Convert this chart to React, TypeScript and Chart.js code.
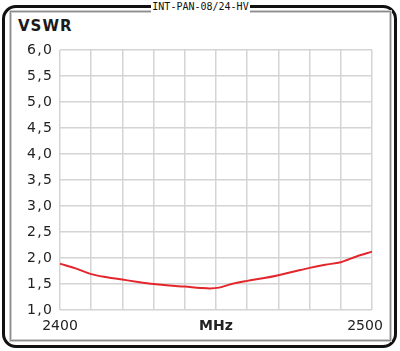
import React, { useEffect, useRef } from "react";
import { Chart, registerables } from "chart.js";

Chart.register(...registerables);

const frequencies = [2400, 2405, 2410, 2415, 2420, 2425, 2430, 2435, 2440, 2445, 2448, 2451, 2455, 2460, 2465, 2470, 2475, 2480, 2485, 2490, 2495, 2500];
const vswr = [1.89, 1.80, 1.69, 1.63, 1.585, 1.54, 1.50, 1.47, 1.45, 1.425, 1.415, 1.43, 1.50, 1.56, 1.61, 1.67, 1.74, 1.81, 1.87, 1.92, 2.03, 2.12];
const xTickLabels: Record<number, string> = { 2400: "2400", 2450: "MHz", 2500: "2500\u2003" };
const yTickValues = [1.0, 1.5, 2.0, 2.5, 3.0, 3.5, 4.0, 4.5, 5.0, 5.5, 6.0];

export default function App() {
  const canvasRef = useRef<HTMLCanvasElement | null>(null);

  useEffect(() => {
    document.body.style.margin = "0";
    const canvas = canvasRef.current;
    if (!canvas) return;
    const chart = new Chart(canvas, {
      type: "line",
      data: {
        datasets: [
          {
            data: frequencies.map((f, i) => ({ x: f, y: vswr[i] })),
            borderColor: "#e3262b",
            borderWidth: 2,
            pointRadius: 0,
            cubicInterpolationMode: "monotone",
            fill: false,
          },
        ],
      },
      options: {
        animation: false,
        responsive: false,
        maintainAspectRatio: false,
        layout: { padding: { left: 0, top: 50, right: 28, bottom: 0 } },
        plugins: { legend: { display: false }, tooltip: { enabled: false } },
        scales: {
          x: {
            type: "linear",
            min: 2400,
            max: 2500,
            afterFit: (s: any) => {
              s.height = 41;
              s.paddingLeft = 0;
              s.paddingRight = 0;
            },
            afterBuildTicks: (s: any) => {
              const t = [];
              for (let v = 2400; v <= 2500; v += 10) t.push({ value: v });
              s.ticks = t;
            },
            grid: { color: "#d4d4d4", lineWidth: 1.5, drawTicks: false },
            border: { display: false },
            ticks: {
              autoSkip: false,
              maxRotation: 0,
              padding: 8,
              color: "#222",
              font: (ctx: any) =>
                ctx.tick && ctx.tick.value === 2450
                  ? { family: "'DejaVu Sans'", size: 14, weight: "bold" }
                  : { family: "'DejaVu Sans'", size: 14 },
              callback: (v: any) => xTickLabels[v as number] ?? "",
            },
          },
          y: {
            min: 1,
            max: 6,
            afterFit: (s: any) => {
              s.width = 60;
              s.paddingTop = 0;
              s.paddingBottom = 0;
            },
            afterBuildTicks: (s: any) => {
              s.ticks = yTickValues.map((v) => ({ value: v }));
            },
            grid: { color: "#d4d4d4", lineWidth: 1.5, drawTicks: false },
            border: { display: false },
            ticks: {
              padding: 8,
              color: "#222",
              font: { family: "'DejaVu Sans'", size: 14 },
              callback: (v: any) => Number(v).toFixed(1).replace(".", "\u200A,\u200A"),
            },
          },
        },
      },
    });
    return () => chart.destroy();
  }, []);

  return (
    <div style={{ position: "relative", width: 400, height: 351, background: "#fff", overflow: "hidden" }}>
      <div
        style={{
          position: "absolute",
          left: 2,
          top: 5,
          width: 389,
          height: 337,
          border: "3px solid #111",
          borderRadius: 14,
        }}
      />
      <div
        style={{
          position: "absolute",
          left: 10,
          top: 11,
          width: 379,
          height: 328,
          border: "1px solid #8a8a8a",
          boxShadow: "inset 0 0 0 1px #cfcfcf, 0 0 0 1px #cfcfcf",
        }}
      />
      <div
        style={{
          position: "absolute",
          left: 151,
          top: 1,
          width: 99,
          height: 12,
          background: "#fff",
          fontFamily: "'DejaVu Sans Mono', monospace",
          fontSize: 10,
          lineHeight: "12px",
          textAlign: "center",
          color: "#111",
        }}
      >
        INT-PAN-08/24-HV
      </div>
      <div
        style={{
          position: "absolute",
          left: 18,
          top: 17,
          fontFamily: "'DejaVu Sans', sans-serif",
          fontWeight: "bold",
          fontSize: 15,
          letterSpacing: 1,
          lineHeight: "18px",
          color: "#1a1a1a",
        }}
      >
        VSWR
      </div>
      <canvas ref={canvasRef} width={400} height={351} style={{ position: "absolute", left: 0, top: 0 }} />
    </div>
  );
}
